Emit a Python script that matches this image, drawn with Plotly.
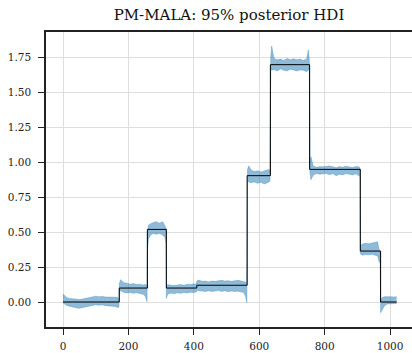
import plotly.graph_objects as go

# True step function (black line)
step_edges = [0, 172, 258, 316, 409, 563, 634, 754, 909, 971, 1020]
step_values = [0.0, 0.1, 0.52, 0.1, 0.12, 0.905, 1.70, 0.95, 0.365, 0.0, 0.0]

# 95% HDI band
hdi_x = [0, 5, 12, 20, 30, 40, 50, 60, 70, 80, 90, 100, 110, 120, 130, 140, 150, 160, 166, 171,
         172, 176, 185, 195, 205, 215, 225, 235, 245, 252, 257,
         258, 261, 268, 276, 285, 295, 305, 312, 315,
         316, 320, 330, 340, 350, 360, 370, 380, 390, 400, 408,
         409, 415, 425, 435, 445, 455, 465, 475, 485, 495, 505, 515, 525, 535, 545, 552, 558, 562,
         563,
         564, 568, 575, 585, 595, 605, 615, 625, 630, 633,
         634,
         635, 638, 645, 655, 665, 675, 685, 695, 705, 715, 725, 735, 745, 750, 753,
         754,
         755, 758, 765, 775, 785, 795, 805, 815, 825, 835, 845, 855, 865, 875, 885, 895, 905, 908,
         909, 915, 925, 935, 945, 955, 962, 966, 970,
         971, 975, 982, 990, 1000, 1010, 1020]
hdi_upper = [0.057, 0.045, 0.030, 0.026, 0.022, 0.020, 0.018, 0.022, 0.028, 0.035, 0.040, 0.042, 0.038, 0.040, 0.036, 0.034, 0.036, 0.030, 0.034, 0.020,
             0.130, 0.160, 0.140, 0.135, 0.128, 0.132, 0.125, 0.128, 0.122, 0.125, 0.118,
             0.50, 0.55, 0.56, 0.57, 0.575, 0.565, 0.575, 0.55, 0.53,
             0.11, 0.125, 0.12, 0.118, 0.122, 0.125, 0.12, 0.128, 0.125, 0.13, 0.128,
             0.15, 0.157, 0.148, 0.150, 0.145, 0.150, 0.148, 0.152, 0.155, 0.150, 0.153, 0.148, 0.150, 0.155, 0.150, 0.145, 0.14, 0.14,
             0.53,
             0.95, 0.976, 0.945, 0.935, 0.940, 0.932, 0.940, 0.945, 0.95, 0.93,
             1.52,
             1.75, 1.834, 1.745, 1.735, 1.740, 1.73, 1.745, 1.735, 1.742, 1.735, 1.74, 1.73, 1.74, 1.805, 1.74,
             1.54,
             1.0, 1.04, 0.975, 0.965, 0.97, 0.968, 0.972, 0.975, 0.968, 0.962, 0.97, 0.965, 0.972, 0.968, 0.963, 0.97, 0.968, 0.96,
             0.40, 0.415, 0.42, 0.418, 0.425, 0.43, 0.432, 0.38, 0.36,
             0.0, 0.03, 0.038, 0.04, 0.038, 0.036, 0.038]
hdi_lower = [-0.005, -0.015, -0.025, -0.030, -0.038, -0.042, -0.045, -0.040, -0.035, -0.030, -0.025, -0.020, -0.024, -0.020, -0.026, -0.028, -0.026, -0.032, -0.040, -0.035,
             0.075, 0.080, 0.070, 0.065, 0.068, 0.062, 0.066, 0.060, 0.055, 0.040, 0.002,
             0.36, 0.45, 0.48, 0.49, 0.485, 0.49, 0.48, 0.46, 0.42,
             0.026, 0.055, 0.065, 0.060, 0.066, 0.062, 0.068, 0.065, 0.070, 0.068, 0.072,
             0.085, 0.080, 0.078, 0.075, 0.080, 0.076, 0.078, 0.082, 0.076, 0.080, 0.074, 0.078, 0.075, 0.077, 0.072, 0.07, 0.04, -0.005,
             0.38,
             0.87, 0.86, 0.855, 0.86, 0.85, 0.858, 0.845, 0.855, 0.86, 0.87,
             1.375,
             1.68, 1.66, 1.665, 1.655, 1.67, 1.66, 1.655, 1.668, 1.66, 1.655, 1.662, 1.66, 1.65, 1.66, 1.68,
             1.41,
             0.93, 0.875, 0.91, 0.92, 0.915, 0.918, 0.92, 0.912, 0.92, 0.905, 0.915, 0.91, 0.92, 0.915, 0.91, 0.918, 0.905, 0.90,
             0.345, 0.335, 0.34, 0.338, 0.342, 0.335, 0.33, 0.29, 0.277,
             -0.077, -0.06, -0.03, -0.015, -0.014, -0.012, -0.01]

x_ticks = [0, 200, 400, 600, 800, 1000]
y_ticks = [0.0, 0.25, 0.5, 0.75, 1.0, 1.25, 1.5, 1.75]

band_color = "rgba(31,119,180,0.5)"
font_family = "DejaVu Serif"

fig = go.Figure()
fig.add_trace(go.Scatter(x=hdi_x, y=hdi_upper, mode="lines",
                         line=dict(width=0.6, color=band_color),
                         hoverinfo="skip", showlegend=False))
fig.add_trace(go.Scatter(x=hdi_x, y=hdi_lower, mode="lines",
                         line=dict(width=0.6, color=band_color),
                         fill="tonexty", fillcolor=band_color,
                         hoverinfo="skip", showlegend=False))
fig.add_trace(go.Scatter(x=step_edges, y=step_values, mode="lines",
                         line=dict(color="black", width=1, shape="hv"),
                         showlegend=False))

fig.update_layout(
    width=412, height=353,
    margin=dict(l=46, r=0, t=32, b=26),
    paper_bgcolor="white", plot_bgcolor="white",
    font=dict(family=font_family, size=10.5, color="#222222"),
    title=dict(text="PM-MALA: 95% posterior HDI", x=0.5, xanchor="center",
               xref="paper", y=1 - 15 / 353, yanchor="middle",
               font=dict(family=font_family, size=15, color="#111111")),
)
fig.update_xaxes(range=[-52, 1067], tickvals=x_ticks, ticks="outside", ticklen=6,
                 tickwidth=1, tickcolor="#222222", ticklabelstandoff=3, automargin=False,
                 showline=True, linecolor="#222222", linewidth=1.5, mirror=True,
                 showgrid=True, gridcolor="#dedede", gridwidth=1.2, zeroline=False)
fig.update_yaxes(range=[-0.179, 1.934], tickvals=y_ticks, tickformat=".2f",
                 ticks="outside", ticklen=6, tickwidth=1, tickcolor="#222222",
                 ticklabelstandoff=5, automargin=False,
                 showline=True, linecolor="#222222", linewidth=1.5,
                 showgrid=True, gridcolor="#dedede", gridwidth=1.2, zeroline=False)

fig.write_html("out.html")
